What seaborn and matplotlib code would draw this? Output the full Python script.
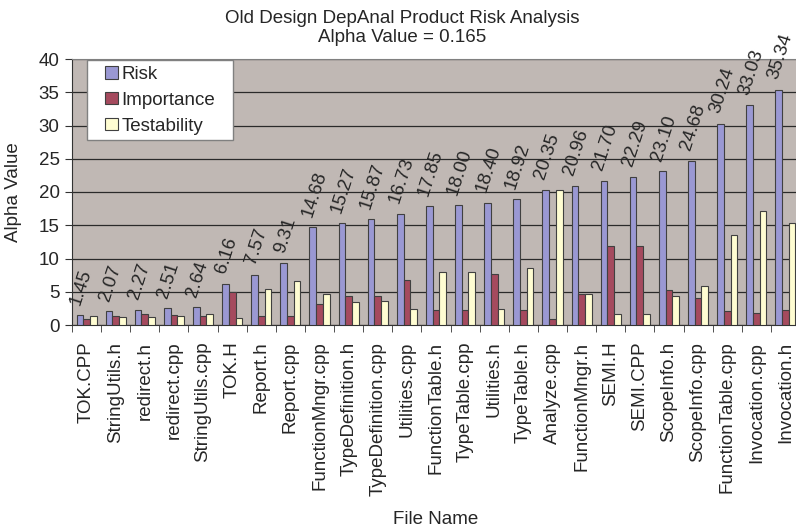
import numpy as np
import pandas as pd
import seaborn as sns
import matplotlib.pyplot as plt
from matplotlib.patches import Rectangle
from matplotlib.legend_handler import HandlerPatch

# chart data
files = ['TOK.CPP', 'StringUtils.h', 'redirect.h', 'redirect.cpp', 'StringUtils.cpp',
         'TOK.H', 'Report.h', 'Report.cpp', 'FunctionMngr.cpp', 'TypeDefinition.h',
         'TypeDefinition.cpp', 'Utilities.cpp', 'FunctionTable.h', 'TypeTable.cpp',
         'Utilities.h', 'TypeTable.h', 'Analyze.cpp', 'FunctionMngr.h', 'SEMI.H',
         'SEMI.CPP', 'ScopeInfo.h', 'ScopeInfo.cpp', 'FunctionTable.cpp',
         'Invocation.cpp', 'Invocation.h']
risk = [1.45, 2.07, 2.27, 2.51, 2.64, 6.16, 7.57, 9.31, 14.68, 15.27, 15.87, 16.73,
        17.85, 18.00, 18.40, 18.92, 20.35, 20.96, 21.70, 22.29, 23.10, 24.68, 30.24,
        33.03, 35.34]
importance = [0.9, 1.3, 1.6, 1.5, 1.3, 4.9, 1.3, 1.3, 3.1, 4.3, 4.3, 6.7, 2.2, 2.2,
              7.6, 2.2, 0.9, 4.6, 11.9, 11.9, 5.3, 4.1, 2.1, 1.8, 2.3]
testability = [1.4, 1.2, 1.2, 1.4, 1.7, 1.1, 5.4, 6.6, 4.7, 3.5, 3.6, 2.4, 8.0, 8.0,
               2.4, 8.5, 20.3, 4.6, 1.7, 1.7, 4.3, 5.8, 13.5, 17.2, 15.3]

df = pd.DataFrame({'File Name': files, 'Risk': risk,
                   'Importance': importance, 'Testability': testability})
long_df = df.melt(id_vars='File Name', var_name='Series', value_name='Alpha Value')

plt.rcParams['font.family'] = ['Liberation Sans', 'DejaVu Sans']
text_color = '#262626'

fig = plt.figure(figsize=(7.96, 5.27), dpi=100)
ax = fig.add_axes([72 / 796, 1 - 325 / 527, 728 / 796, 266 / 527])
ax.set_facecolor('#C0B8B4')

palette = {'Risk': '#9A98D3', 'Importance': '#A54A5E', 'Testability': '#FFFDD2'}
sns.barplot(data=long_df, x='File Name', y='Alpha Value', hue='Series',
            palette=palette, width=0.69, edgecolor='#404040', linewidth=0.8,
            saturation=1, ax=ax, zorder=3)

# value labels above the Risk bars
for bar, val in zip(ax.containers[0], risk):
    ax.annotate(f'{val:.2f}', (bar.get_x() + bar.get_width() / 2, bar.get_height()),
                xytext=(1, 6), textcoords='offset points', rotation=72,
                ha='center', va='bottom', fontsize=13.5, color=text_color)

ax.set_ylim(0, 40)
ax.set_yticks(np.arange(0, 41, 5))
ax.set_xlim(-0.5, len(files) - 0.5)
ax.yaxis.grid(True, color='#2a2a2a', linewidth=0.9, zorder=0)
ax.set_axisbelow(True)

ax.set_xticks(np.arange(-0.5, len(files), 1), minor=True)
ax.tick_params(axis='x', which='major', length=0, pad=12, labelsize=13.5,
               labelrotation=90, labelcolor=text_color)
ax.tick_params(axis='x', which='minor', length=5, color='#333333')
ax.tick_params(axis='y', length=5, pad=4, labelsize=13.5, labelcolor=text_color,
               color='#333333')

for side in ['left', 'bottom']:
    ax.spines[side].set_color('#333333')
for side in ['top', 'right']:
    ax.spines[side].set_color('#808080')

ax.set_xlabel('File Name', fontsize=13.5, color=text_color)
ax.xaxis.set_label_coords(0.5, (325 - 511) / 266)
ax.set_ylabel('Alpha Value', fontsize=13.5, color=text_color)
ax.yaxis.set_label_coords((22 - 72) / 728, 0.5)


# square legend keys pushed to the right side of the handle box
def square_key(legend, orig_handle, xdescent, ydescent, width, height, fontsize):
    side = height
    return Rectangle((width - side - xdescent, -ydescent), side, side)


handles, labels = ax.get_legend_handles_labels()
leg = ax.legend(handles, labels, loc='upper left', mode='expand',
                bbox_to_anchor=(15 / 728, 1 - 4 / 266, 146 / 728, 0.01),
                borderaxespad=0, fontsize=13.5, frameon=True, fancybox=False,
                edgecolor='#808080', facecolor='white', framealpha=1,
                handlelength=1.35, handleheight=0.65, handletextpad=0.2,
                labelspacing=0.47, borderpad=0.3,
                handler_map={Rectangle: HandlerPatch(patch_func=square_key)})
leg.get_frame().set_linewidth(1)
for t in leg.get_texts():
    t.set_color(text_color)

fig.text(402 / 796, 1 - 28 / 527,
         'Old Design DepAnal Product Risk Analysis\nAlpha Value = 0.165',
         ha='center', va='center', fontsize=13.5, linespacing=1.12, color=text_color)

fig.savefig('out.png', dpi=100)
